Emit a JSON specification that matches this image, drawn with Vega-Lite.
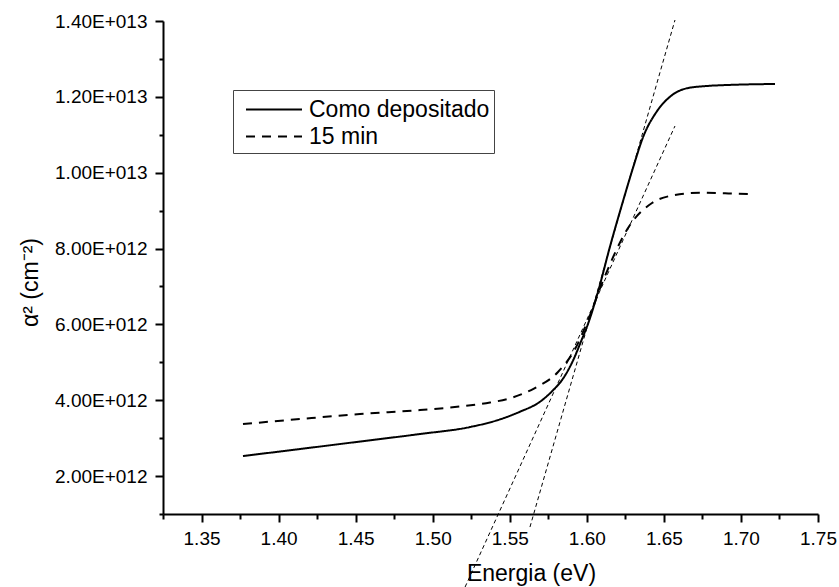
{
  "$schema": "https://vega.github.io/schema/vega-lite/v6.json",
  "width": 655,
  "height": 493,
  "autosize": {"type": "none"},
  "padding": {"left": 163, "top": 21, "right": 21, "bottom": 73},
  "background": "white",
  "config": {
    "view": {"stroke": null},
    "font": "Liberation Sans",
    "axis": {"grid": false, "domainColor": "black", "domainWidth": 2, "tickColor": "black", "tickWidth": 2, "labelColor": "black", "titleColor": "black", "labelFont": "Liberation Sans", "titleFont": "Liberation Sans", "labelFontSize": 19, "titleFontSize": 23, "titleFontWeight": "normal", "labelOverlap": false, "labelFlush": false}
  },
  "datasets": {
    "curves": [
      {"series": "Como depositado", "x": 1.3769, "y": 2.529e12},
      {"series": "Como depositado", "x": 1.4139, "y": 2.713e12},
      {"series": "Como depositado", "x": 1.4528, "y": 2.911e12},
      {"series": "Como depositado", "x": 1.4918, "y": 3.109e12},
      {"series": "Como depositado", "x": 1.5242, "y": 3.293e12},
      {"series": "Como depositado", "x": 1.5437, "y": 3.496e12},
      {"series": "Como depositado", "x": 1.5566, "y": 3.697e12},
      {"series": "Como depositado", "x": 1.5696, "y": 3.960e12},
      {"series": "Como depositado", "x": 1.5782, "y": 4.269e12},
      {"series": "Como depositado", "x": 1.5847, "y": 4.578e12},
      {"series": "Como depositado", "x": 1.5912, "y": 5.060e12},
      {"series": "Como depositado", "x": 1.5966, "y": 5.588e12},
      {"series": "Como depositado", "x": 1.6009, "y": 6.028e12},
      {"series": "Como depositado", "x": 1.6074, "y": 6.880e12},
      {"series": "Como depositado", "x": 1.6150, "y": 8.048e12},
      {"series": "Como depositado", "x": 1.6237, "y": 9.280e12},
      {"series": "Como depositado", "x": 1.6302, "y": 10.158e12},
      {"series": "Como depositado", "x": 1.6366, "y": 10.949e12},
      {"series": "Como depositado", "x": 1.6453, "y": 11.608e12},
      {"series": "Como depositado", "x": 1.6540, "y": 12.004e12},
      {"series": "Como depositado", "x": 1.6648, "y": 12.225e12},
      {"series": "Como depositado", "x": 1.6778, "y": 12.286e12},
      {"series": "Como depositado", "x": 1.6908, "y": 12.312e12},
      {"series": "Como depositado", "x": 1.7079, "y": 12.331e12},
      {"series": "Como depositado", "x": 1.7221, "y": 12.339e12},
      {"series": "15 min", "x": 1.3769, "y": 3.372e12},
      {"series": "15 min", "x": 1.4139, "y": 3.504e12},
      {"series": "15 min", "x": 1.4528, "y": 3.636e12},
      {"series": "15 min", "x": 1.4918, "y": 3.742e12},
      {"series": "15 min", "x": 1.5177, "y": 3.834e12},
      {"series": "15 min", "x": 1.5372, "y": 3.939e12},
      {"series": "15 min", "x": 1.5501, "y": 4.050e12},
      {"series": "15 min", "x": 1.5657, "y": 4.309e12},
      {"series": "15 min", "x": 1.5813, "y": 4.744e12},
      {"series": "15 min", "x": 1.5927, "y": 5.377e12},
      {"series": "15 min", "x": 1.6008, "y": 6.115e12},
      {"series": "15 min", "x": 1.6107, "y": 7.170e12},
      {"series": "15 min", "x": 1.6280, "y": 8.620e12},
      {"series": "15 min", "x": 1.6423, "y": 9.200e12},
      {"series": "15 min", "x": 1.6572, "y": 9.411e12},
      {"series": "15 min", "x": 1.6734, "y": 9.472e12},
      {"series": "15 min", "x": 1.6897, "y": 9.456e12},
      {"series": "15 min", "x": 1.7079, "y": 9.438e12}
    ],
    "fits": [
      {"line": "fit Como depositado", "x": 1.6572, "y": 14.026e12},
      {"line": "fit Como depositado", "x": 1.5631, "y": 0.656e12},
      {"line": "fit 15 min", "x": 1.6572, "y": 11.231e12},
      {"line": "fit 15 min", "x": 1.5210, "y": -0.926e12}
    ]
  },
  "layer": [
    {
      "data": {"name": "fits"},
      "mark": {"type": "line", "color": "black", "strokeWidth": 1, "strokeDash": [4, 3], "clip": false},
      "encoding": {
        "x": {
          "field": "x", "type": "quantitative",
          "scale": {"domain": [1.325, 1.75], "nice": false, "zero": false},
          "axis": {
            "orient": "bottom",
            "title": null, "labels": false, "domain": false,
            "values": [1.325, 1.375, 1.425, 1.475, 1.525, 1.575, 1.625, 1.675, 1.725],
            "tickSize": 5
          }
        },
        "y": {
          "field": "y", "type": "quantitative",
          "scale": {"domain": [1e12, 1.4e13], "nice": false, "zero": false},
          "axis": {
            "orient": "left",
            "title": null, "labels": false, "domain": false,
            "values": [1e12, 3e12, 5e12, 7e12, 9e12, 1.1e13, 1.3e13],
            "tickSize": 4
          }
        },
        "detail": {"field": "line"}
      }
    },
    {
      "data": {"name": "curves"},
      "mark": {"type": "line", "color": "black", "strokeWidth": 2, "interpolate": "monotone"},
      "encoding": {
        "x": {
          "field": "x", "type": "quantitative",
          "scale": {"domain": [1.325, 1.75], "nice": false, "zero": false},
          "axis": {
            "orient": "bottom",
            "title": "Energia (eV)",
            "values": [1.35, 1.4, 1.45, 1.5, 1.55, 1.6, 1.65, 1.7, 1.75],
            "format": ".2f",
            "tickSize": 8,
            "labelPadding": 7,
            "titleX": 368, "titleY": 66, "titleAlign": "center", "titleBaseline": "alphabetic"
          }
        },
        "y": {
          "field": "y", "type": "quantitative",
          "scale": {"domain": [1e12, 1.4e13], "nice": false, "zero": false},
          "axis": {
            "orient": "left",
            "title": "α² (cm⁻²)",
            "values": [2e12, 4e12, 6e12, 8e12, 1e13, 1.2e13, 1.4e13],
            "labelExpr": "format(datum.value/pow(10, floor(log(datum.value)/LN10 + 1e-9)), '.2f') + 'E+0' + floor(log(datum.value)/LN10 + 1e-9)",
            "tickSize": 8,
            "labelPadding": 8,
            "titleX": -126, "titleY": 261, "titleAngle": -90, "titleAlign": "center", "titleBaseline": "alphabetic"
          }
        },
        "strokeDash": {
          "field": "series", "type": "nominal",
          "scale": {"domain": ["Como depositado", "15 min"], "range": [[1, 0], [9, 7]]},
          "legend": {
            "title": null, "orient": "none", "legendX": 70, "legendY": 69,
            "symbolType": "M-2,0H2", "symbolSize": 784, "symbolStrokeWidth": 2, "symbolStrokeColor": "black", "symbolFillColor": "transparent",
            "labelFontSize": 23, "labelFont": "Liberation Sans", "labelColor": "black", "labelOffset": 20, "labelLimit": 400,
            "strokeColor": "#444", "padding": 4.5, "symbolOffset": 21.5, "rowPadding": 0
          }
        }
      }
    }
  ],
  "resolve": {"axis": {"x": "independent", "y": "independent"}}
}
